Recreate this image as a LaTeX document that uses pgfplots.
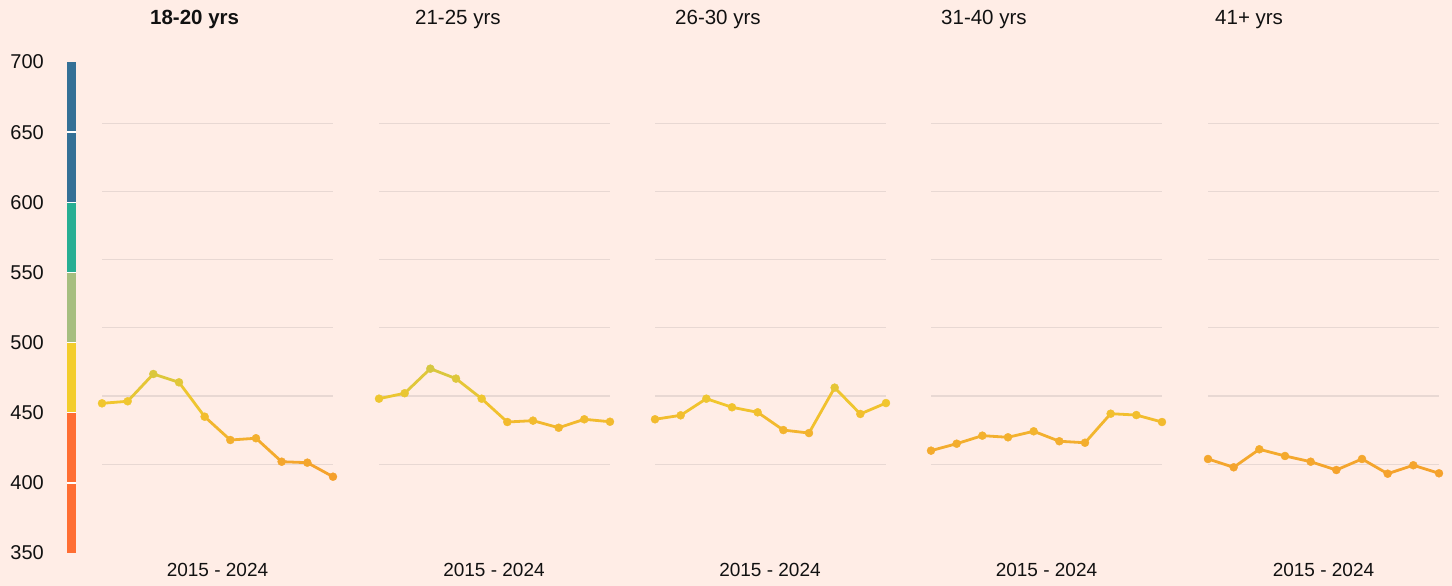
\documentclass[border=0pt]{standalone}
\usepackage{fontspec}
\setmainfont{Liberation Sans}
\usepackage{pgfplots}
\pgfplotsset{compat=1.18}
\definecolor{bg}{RGB}{255,237,230}
\definecolor{gridc}{RGB}{232,216,211}
\definecolor{cblue}{RGB}{52,112,150}
\definecolor{cteal}{RGB}{40,174,147}
\definecolor{csage}{RGB}{166,190,127}
\definecolor{cyellow}{RGB}{243,205,44}
\definecolor{corange}{RGB}{255,110,51}
\definecolor{txt}{RGB}{17,17,17}
\pgfplotsset{
  panel/.style={
    width=231pt, height=477.4pt, scale only axis,
    anchor=south west,
    xmin=2015, xmax=2024, ymin=350, ymax=700,
    axis line style={draw=none},
    tick style={draw=none},
    xtick=\empty,
    ytick={400,450,500,550,600,650},
    yticklabels={},
    ymajorgrids, grid style={color=gridc, line width=1.2pt},
    clip=false,
    point meta min=390, point meta max=470,
    colormap={lc}{rgb255(0cm)=(245,160,44) rgb255(3cm)=(243,176,46) rgb255(5.5cm)=(241,198,46) rgb255(8cm)=(214,199,64)},
  },
  pline/.style={mesh, line width=2.8pt, line cap=round, line join=round, point meta=y},
  pmark/.style={scatter, only marks, mark=*, mark size=4pt, scatter src=y,
    scatter/use mapped color={draw=mapped color, fill=mapped color}},
}
\pgfplotstableread{
x v
2015 444.7
2016 446.2
2017 466.2
2018 460.1
2019 434.9
2020 417.8
2021 419.1
2022 401.9
2023 401.2
2024 390.9
}\tA
\pgfplotstableread{
x v
2015 448.1
2016 452.1
2017 470.1
2018 462.8
2019 448.1
2020 431.0
2021 432.0
2022 426.8
2023 433.0
2024 431.2
}\tB
\pgfplotstableread{
x v
2015 433.0
2016 435.9
2017 448.1
2018 441.8
2019 438.1
2020 425.1
2021 422.9
2022 456.2
2023 436.9
2024 444.9
}\tC
\pgfplotstableread{
x v
2015 410.0
2016 415.1
2017 421.0
2018 419.8
2019 424.2
2020 416.9
2021 415.8
2022 437.1
2023 436.1
2024 431.0
}\tD
\pgfplotstableread{
x v
2015 403.9
2016 397.8
2017 411.0
2018 406.1
2019 401.9
2020 395.8
2021 403.9
2022 393.1
2023 399.3
2024 393.4
}\tE
\begin{document}
\begin{tikzpicture}[x=1pt,y=1pt]
\fill[bg] (0,0) rectangle (1452,586);
% colour scale
\begin{axis}[
  at={(67pt,33pt)}, anchor=south west,
  width=9pt, height=491pt, scale only axis,
  xmin=0, xmax=1, ymin=350, ymax=700,
  axis line style={draw=none},
  tick style={draw=none},
  xtick=\empty,
  ytick={350,400,450,500,550,600,650,700},
  yticklabels={350,400,450,500,550,600,650,700},
  yticklabel style={anchor=east, inner sep=0pt, xshift=-23pt, text=txt, font=\fontsize{20}{20}\selectfont},
  clip=false,
]
\addplot[fill=corange, draw=none] coordinates {(0,350) (0,400) (1,400) (1,350)} --cycle;
\addplot[fill=corange, draw=none] coordinates {(0,400) (0,450) (1,450) (1,400)} --cycle;
\addplot[fill=cyellow, draw=none] coordinates {(0,450) (0,500) (1,500) (1,450)} --cycle;
\addplot[fill=csage, draw=none] coordinates {(0,500) (0,550) (1,550) (1,500)} --cycle;
\addplot[fill=cteal, draw=none] coordinates {(0,550) (0,600) (1,600) (1,550)} --cycle;
\addplot[fill=cblue, draw=none] coordinates {(0,600) (0,650) (1,650) (1,600)} --cycle;
\addplot[fill=cblue, draw=none] coordinates {(0,650) (0,700) (1,700) (1,650)} --cycle;
\foreach \v in {400,450,...,650} {
  \edef\tmp{\noexpand\draw[white, line width=1.5pt] (axis cs:0,\v) -- (axis cs:1,\v);}\tmp
}
\end{axis}
% panels
\begin{axis}[panel, at={(102pt,53.5pt)}]
\addplot[pline] table[x=x,y=v] {\tA};
\addplot[pmark] table[x=x,y=v] {\tA};
\end{axis}
\begin{axis}[panel, at={(379pt,53.5pt)}]
\addplot[pline] table[x=x,y=v] {\tB};
\addplot[pmark] table[x=x,y=v] {\tB};
\end{axis}
\begin{axis}[panel, at={(655pt,53.5pt)}]
\addplot[pline] table[x=x,y=v] {\tC};
\addplot[pmark] table[x=x,y=v] {\tC};
\end{axis}
\begin{axis}[panel, at={(931pt,53.5pt)}]
\addplot[pline] table[x=x,y=v] {\tD};
\addplot[pmark] table[x=x,y=v] {\tD};
\end{axis}
\begin{axis}[panel, at={(1208pt,53.5pt)}]
\addplot[pline] table[x=x,y=v] {\tE};
\addplot[pmark] table[x=x,y=v] {\tE};
\end{axis}
% titles
\begin{scope}[every node/.style={inner sep=0pt, text=txt, font=\fontsize{20.5}{20.5}\selectfont}]
\node[anchor=base west] at (150,561) {\bfseries 18-20 yrs};
\node[anchor=base west] at (415,561) {21-25 yrs};
\node[anchor=base west] at (675,561) {26-30 yrs};
\node[anchor=base west] at (941,561) {31-40 yrs};
\node[anchor=base west] at (1215,561) {41+ yrs};
\end{scope}
\begin{scope}[every node/.style={inner sep=0pt, text=txt, font=\fontsize{19}{19}\selectfont, anchor=base}]
\node at (217.5,9) {2015 - 2024};
\node at (494,9) {2015 - 2024};
\node at (770,9) {2015 - 2024};
\node at (1046.5,9) {2015 - 2024};
\node at (1323.5,9) {2015 - 2024};
\end{scope}
\end{tikzpicture}
\end{document}
